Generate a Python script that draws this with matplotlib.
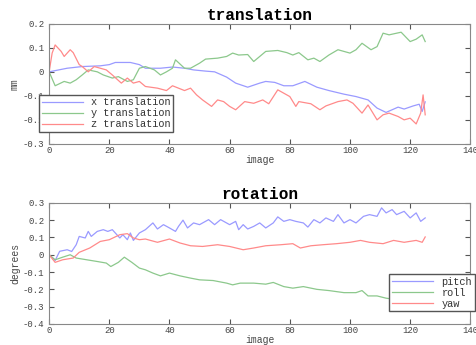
import matplotlib
matplotlib.use("Agg")
import matplotlib.pyplot as plt

# translation data (mm)
x_img = [0, 6, 11, 17, 20, 22, 27, 30, 32, 37, 41, 45, 48, 52, 55, 59, 62, 66, 70, 72, 75,
         78, 81, 85, 89, 93, 98, 102, 106, 109, 112, 116, 118, 121, 123, 124, 125]
x_tr = [0, 0.015, 0.022, 0.025, 0.03, 0.039, 0.039, 0.03, 0.015, 0.015, 0.02, 0.015, 0.008,
        0.003, 0, -0.022, -0.047, -0.064, -0.047, -0.04, -0.044, -0.058, -0.058, -0.04,
        -0.064, -0.078, -0.093, -0.103, -0.117, -0.151, -0.169, -0.147, -0.155, -0.142,
        -0.135, -0.165, -0.125]

y_img = [0, 2, 5, 7, 9, 11, 13, 16, 18, 21, 23, 26, 28, 30, 32, 35, 37, 39, 41, 42, 45, 47,
         50, 52, 56, 59, 61, 63, 66, 68, 70, 72, 76, 79, 81, 83, 86, 88, 90, 93, 96, 98, 100,
         102, 104, 107, 109, 111, 113, 117, 120, 122, 124, 125]
y_tr = [0, -0.058, -0.04, -0.047, -0.033, -0.013, 0.008, 0, -0.013, -0.026, -0.02, -0.04,
        -0.033, 0.015, 0.022, 0.008, -0.013, 0, 0.015, 0.05, 0.015, 0.015, 0.036, 0.053,
        0.057, 0.064, 0.078, 0.07, 0.072, 0.043, 0.064, 0.085, 0.089, 0.08, 0.07, 0.08, 0.05,
        0.057, 0.043, 0.07, 0.092, 0.085, 0.078, 0.092, 0.119, 0.092, 0.105, 0.161, 0.154,
        0.165, 0.126, 0.136, 0.154, 0.126]

z_img = [0, 1, 2, 4, 5, 7, 8, 10, 11, 13, 15, 17, 19, 21, 24, 26, 28, 30, 32, 36, 39, 41,
         45, 47, 49, 51, 54, 56, 58, 60, 62, 65, 68, 71, 73, 76, 78, 80, 82, 83, 87, 90, 92,
         96, 99, 101, 104, 106, 109, 111, 113, 116, 118, 120, 122, 123.5, 124.3, 125]
z_tr = [0, 0.078, 0.112, 0.085, 0.064, 0.092, 0.08, 0.03, 0.022, 0, 0.022, 0.015, 0.008,
        -0.013, -0.047, -0.026, -0.047, -0.04, -0.061, -0.068, -0.078, -0.058, -0.078,
        -0.068, -0.096, -0.117, -0.144, -0.117, -0.124, -0.144, -0.158, -0.124, -0.131,
        -0.117, -0.133, -0.075, -0.089, -0.103, -0.144, -0.124, -0.133, -0.158, -0.142,
        -0.124, -0.117, -0.131, -0.172, -0.138, -0.2, -0.179, -0.172, -0.186, -0.2, -0.193,
        -0.217, -0.172, -0.096, -0.179]

# rotation data (degrees)
p_img = [0, 2, 3.5, 6, 7.5, 9, 10, 12, 13, 14, 16, 18, 19.5, 21, 23.5, 24.5, 26, 27, 28, 30,
         32, 34.5, 36, 38, 40, 42, 43, 44.5, 46, 48, 50, 53, 55, 57, 60, 62, 63, 64.5, 66,
         68, 70, 72, 74.5, 76, 78, 80, 82, 84.5, 86, 88, 90, 92, 94.5, 96, 98, 100, 102,
         104.5, 106.5, 109, 110.5, 112, 114, 115.5, 118, 120, 122, 123.5, 125]
pitch = [0, -0.033, 0.02, 0.029, 0.019, 0.058, 0.106, 0.097, 0.135, 0.106, 0.135, 0.145,
         0.135, 0.145, 0.097, 0.116, 0.087, 0.126, 0.083, 0.126, 0.145, 0.184, 0.149, 0.174,
         0.155, 0.135, 0.164, 0.2, 0.155, 0.184, 0.174, 0.203, 0.174, 0.203, 0.174, 0.193,
         0.145, 0.174, 0.149, 0.164, 0.184, 0.155, 0.184, 0.219, 0.193, 0.203, 0.193, 0.184,
         0.16, 0.203, 0.184, 0.213, 0.193, 0.232, 0.184, 0.203, 0.184, 0.222, 0.232, 0.222,
         0.271, 0.242, 0.261, 0.232, 0.251, 0.213, 0.242, 0.193, 0.213]

r_img = [0, 2, 4.5, 7, 9, 12.5, 16, 19, 20.5, 23, 25, 27.5, 30, 32, 34.5, 37, 40, 43.5, 47,
         50, 54.5, 59, 61, 63.5, 68, 72, 74.5, 78, 81, 84.5, 89, 93, 98, 102, 104, 106, 109,
         112, 114.5, 120, 125]
roll = [0, -0.029, -0.014, 0, -0.019, -0.029, -0.039, -0.048, -0.068, -0.044, -0.014,
        -0.044, -0.077, -0.087, -0.106, -0.122, -0.106, -0.122, -0.135, -0.145, -0.149,
        -0.164, -0.174, -0.164, -0.164, -0.17, -0.16, -0.184, -0.193, -0.184, -0.2, -0.207,
        -0.219, -0.219, -0.207, -0.238, -0.238, -0.251, -0.257, -0.262, -0.265]

w_img = [0, 2, 4.5, 8, 10, 13.5, 17, 20, 23.5, 26, 28, 30, 32, 36, 40, 43.5, 47, 51, 56, 60,
         64.5, 68, 72, 77, 81, 83.5, 87, 91, 95.5, 100, 103.5, 106.5, 111, 114.5, 118, 122,
         124, 125]
yaw = [0, -0.044, -0.029, -0.019, 0.014, 0.039, 0.077, 0.087, 0.116, 0.122, 0.097, 0.087,
       0.091, 0.072, 0.091, 0.068, 0.052, 0.048, 0.058, 0.048, 0.029, 0.039, 0.052, 0.058,
       0.064, 0.039, 0.052, 0.058, 0.064, 0.072, 0.083, 0.072, 0.064, 0.083, 0.072, 0.083,
       0.072, 0.103]

blue = '#9a9aff'
green = '#8cc88c'
red = '#ff8a8a'
mono = ['Liberation Mono', 'DejaVu Sans Mono']

plt.rc('font', family=mono, size=6.5)
plt.rc('xtick', direction='in', top=True, color='#555555', labelcolor='#444444')
plt.rc('ytick', direction='in', right=True, color='#555555', labelcolor='#444444')
plt.rc('xtick.major', pad=1.5)
plt.rc('axes', edgecolor='#888888', linewidth=0.8)

fig = plt.figure(figsize=(4.77, 3.45), dpi=100)
ax1 = fig.add_axes([0.103, 0.583, 0.883, 0.348])
ax2 = fig.add_axes([0.103, 0.061, 0.883, 0.351])


def style_axes(ax, title, ylabel):
    ax.set_xlim(0, 140)
    ax.set_xticks(range(0, 141, 20))
    ax.set_title(title, fontsize=11.5, fontweight='bold', pad=3)
    ax.set_xlabel('image', fontsize=7, color='#444444', labelpad=0)
    ax.set_ylabel(ylabel, fontsize=7, color='#444444', labelpad=2)
    leg = ax.legend(fontsize=7.4, handlelength=4, borderpad=0.25, labelspacing=0.1,
                    handletextpad=0.8, fancybox=False, framealpha=1, borderaxespad=0,
                    loc='upper left', labelcolor='#333333',
                    bbox_to_anchor=(-0.024, 0.41) if ax is ax1 else (0.808, 0.413))
    leg.get_frame().set_edgecolor('#555555')


ax1.plot(x_img, x_tr, color=blue, lw=0.9, label='x translation')
ax1.plot(y_img, y_tr, color=green, lw=0.9, label='y translation')
ax1.plot(z_img, z_tr, color=red, lw=0.9, label='z translation')
ax1.set_ylim(-0.3, 0.2)
ax1.set_yticks([-0.3, -0.2, -0.1, 0, 0.1, 0.2])
ax1.set_yticklabels(['-0.3', '-0.2', '-0.1', '0', '0.1', '0.2'])
style_axes(ax1, 'translation', 'mm')

ax2.plot(p_img, pitch, color=blue, lw=0.9, label='pitch')
ax2.plot(r_img, roll, color=green, lw=0.9, label='roll')
ax2.plot(w_img, yaw, color=red, lw=0.9, label='yaw')
ax2.set_ylim(-0.4, 0.3)
ax2.set_yticks([-0.4, -0.3, -0.2, -0.1, 0, 0.1, 0.2, 0.3])
ax2.set_yticklabels(['-0.4', '-0.3', '-0.2', '-0.1', '0', '0.1', '0.2', '0.3'])
style_axes(ax2, 'rotation', 'degrees')

fig.savefig('out.png', dpi=100)
